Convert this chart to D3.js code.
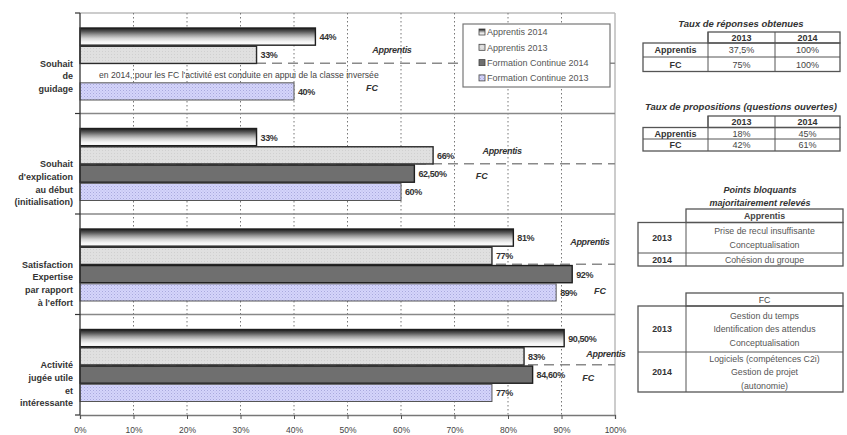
<!DOCTYPE html>
<html><head><meta charset="utf-8">
<script src="https://cdn.jsdelivr.net/npm/d3@7"></script>
<style>
body{margin:0;background:#fff;}
svg{display:block;font-family:"Liberation Sans",Arial,sans-serif;}
</style></head>
<body><svg id="c" width="847" height="435"></svg>
<script>
// ---- data ----
const categories = ["Souhait de guidage","Souhait d'explication au début (initialisation)","Satisfaction Expertise par rapport à l'effort","Activité jugée utile et intéressante"];
const categoryLines = [["Souhait","de","guidage"],["Souhait","d'explication","au début","(initialisation)"],["Satisfaction","Expertise","par rapport","à l'effort"],["Activité","jugée utile","et","intéressante"]];
const seriesNames = ["Apprentis 2014","Apprentis 2013","Formation Continue 2014","Formation Continue 2013"];
const apprentis2014 = [44, 33, 81, 90.5];
const apprentis2013 = [33, 66, 77, 83];
const fc2014 = [null, 62.5, 92, 84.6];
const fc2013 = [40, 60, 89, 77];
const xTicks = [0,10,20,30,40,50,60,70,80,90,100];
// group annotation positions in % (x) : Apprentis / FC labels
const apprLabelX = [58.3, 78.9, 95.3, 98.3];
const fcLabelX = [54.6, 75.1, 97.2, 95];
const note = "en 2014, pour les FC l'activité est conduite en appui de la classe inversée";

const table1Title = "Taux de réponses obtenues";
const table2Title = "Taux de propositions (questions ouvertes)";
const tableYears = ["2013","2014"];
const tableRows = ["Apprentis","FC"];
const reponses = [["37,5%","100%"],["75%","100%"]];
const propositions = [["18%","45%"],["42%","61%"]];
const blocTitle = ["Points bloquants","majoritairement relevés"];
const blocApprentis = [["Prise de recul insuffisante","Conceptualisation"],["Cohésion du groupe"]];
const blocFC = [["Gestion du temps","Identification des attendus","Conceptualisation"],["Logiciels (compétences C2i)","Gestion de projet","(autonomie)"]];

const seriesData = [apprentis2014, apprentis2013, fc2014, fc2013];

const svg = d3.select("#c");
const defs = svg.append("defs");
// gradient for Apprentis 2014
const g1 = defs.append("linearGradient").attr("id","gA14").attr("x1",0).attr("y1",0).attr("x2",0).attr("y2",1);
[["0%","#1a1a1a"],["20%","#555"],["40%","#9a9a9a"],["60%","#d4d4d4"],["80%","#f4f4f4"],["100%","#ffffff"]].forEach(s=>g1.append("stop").attr("offset",s[0]).attr("stop-color",s[1]));
// dotted pattern light gray
const p1 = defs.append("pattern").attr("id","pA13").attr("width",3).attr("height",3).attr("patternUnits","userSpaceOnUse");
p1.append("rect").attr("width",3).attr("height",3).attr("fill","#e0e0e0");
p1.append("rect").attr("width",1).attr("height",1).attr("fill","#d0d0d0");
const p2 = defs.append("pattern").attr("id","pF13").attr("width",3).attr("height",3).attr("patternUnits","userSpaceOnUse");
p2.append("rect").attr("width",3).attr("height",3).attr("fill","#d4d4fb");
p2.append("rect").attr("width",1).attr("height",1).attr("fill","#a9a9dc");
p2.append("rect").attr("x",1.5).attr("y",1.5).attr("width",1).attr("height",1).attr("fill","#b9b9e6");

const fills = ["url(#gA14)","url(#pA13)","#6f6f6f","url(#pF13)"];
const strokes = ["#1e1e1e","#2a2a2a","#1e1e1e","#555"];

const x = d3.scaleLinear().domain([0,100]).range([80,615]);
const y0 = d3.scaleBand().domain(categories).range([13,415]);
const y1 = d3.scaleBand().domain(seriesNames).range([15,87]).paddingInner(0.06);

// frame
svg.append("line").attr("x1",80).attr("x2",615).attr("y1",13).attr("y2",13).attr("stroke","#999").attr("stroke-width",1);
svg.append("line").attr("x1",615).attr("x2",615).attr("y1",13).attr("y2",415).attr("stroke","#bbb").attr("stroke-width",1.5);

// vertical dotted grid
svg.append("g").selectAll("line").data(xTicks.slice(1,-1)).join("line")
  .attr("x1",d=>x(d)).attr("x2",d=>x(d)).attr("y1",13).attr("y2",415)
  .attr("stroke","#777").attr("stroke-width",1).attr("stroke-dasharray","1.5,2.5");

// group separators
svg.append("g").selectAll("line").data(categories.slice(1)).join("line")
  .attr("x1",80).attr("x2",615).attr("y1",d=>y0(d)).attr("y2",d=>y0(d))
  .attr("stroke","#888").attr("stroke-width",1.3);

// dashed lines between Apprentis and FC
svg.append("g").selectAll("line").data(categories).join("line")
  .attr("x1",80).attr("x2",615).attr("y1",d=>y0(d)+y0.bandwidth()/2).attr("y2",d=>y0(d)+y0.bandwidth()/2)
  .attr("stroke","#8a8a8a").attr("stroke-width",1.6).attr("stroke-dasharray","10,6");

// bars
const fmt = v => Number.isInteger(v) ? v+"%" : v.toFixed(2).replace(".",",")+"%";
seriesNames.forEach((s,si)=>{
  const g = svg.append("g");
  const rows = categories.map((c,ci)=>({c, v:seriesData[si][ci]})).filter(d=>d.v!=null);
  g.selectAll("rect").data(rows).join("rect")
    .attr("x",x(0)).attr("y",d=>y0(d.c)+y1(s))
    .attr("width",d=>x(d.v)-x(0)).attr("height",y1.bandwidth())
    .attr("fill",fills[si]).attr("stroke",strokes[si]).attr("stroke-width",si==3?1:1.4);
  g.selectAll("text").data(rows).join("text")
    .attr("x",d=>x(d.v)+4).attr("y",d=>y0(d.c)+y1(s)+y1.bandwidth()/2+3.5)
    .attr("font-size",9).attr("font-weight","bold").attr("fill","#333").attr("letter-spacing",-0.4)
    .text(d=>fmt(d.v));
});

// left axis
svg.append("line").attr("x1",80).attr("x2",80).attr("y1",13).attr("y2",415).attr("stroke","#333").attr("stroke-width",1.3);
svg.append("g").selectAll("line").data(categories.concat(["end"])).join("line")
  .attr("x1",75).attr("x2",80)
  .attr("y1",(d,i)=>i<categories.length?y0(d):y0.range()[1]).attr("y2",(d,i)=>i<categories.length?y0(d):y0.range()[1])
  .attr("stroke","#333").attr("stroke-width",1.2);

// category labels
categories.forEach((c,ci)=>{
  const t = svg.append("text").attr("text-anchor","end").attr("font-size",9).attr("font-weight","bold").attr("fill","#333");
  categoryLines[ci].forEach((ln,li)=>{
    t.append("tspan").attr("x",73).attr("y",y0(c)+y0.bandwidth()/2+3.5+li*12.7).text(ln);
  });
});

// bottom axis
const xAxis = d3.axisBottom(x).tickValues(xTicks).tickFormat(d=>d+"%").tickSize(4).tickPadding(8);
const ax = svg.append("g").attr("transform","translate(0,415)").call(xAxis);
ax.select(".domain").attr("stroke","#777").attr("stroke-width",1.3);
ax.selectAll(".tick line").attr("stroke","#555");
ax.selectAll("text").attr("font-size",8.5).attr("fill","#444").attr("font-family","Liberation Sans, Arial, sans-serif");

// group annotations
const annG = svg.append("g").attr("font-size",9).attr("font-weight","bold").attr("font-style","italic").attr("fill","#333").attr("text-anchor","middle");
categories.forEach((c,ci)=>{
  const top = y0(c);
  const ay = [36, 36.5, 27, 38.5][ci];
  const fy = [74, 61.5, 76, 62.5][ci];
  annG.append("text").attr("x",x(apprLabelX[ci])).attr("y",top+ay+3.5).attr("letter-spacing",-0.3).text("Apprentis");
  annG.append("text").attr("x",x(fcLabelX[ci])).attr("y",top+fy+3.5).text("FC");
});
svg.append("text").attr("x",99).attr("y",78).attr("font-size",8.6).attr("fill","#444").text(note);

// legend
const lg = svg.append("g");
lg.append("rect").attr("x",463).attr("y",24).attr("width",147).attr("height",63).attr("fill","#fff").attr("stroke","#777").attr("stroke-width",1.2);
seriesNames.forEach((s,si)=>{
  const yy = 32 + si*15.3;
  lg.append("rect").attr("x",479).attr("y",yy-3).attr("width",6).attr("height",6).attr("fill",fills[si]).attr("stroke","#444").attr("stroke-width",0.8);
  lg.append("text").attr("x",487).attr("y",yy+3.3).attr("font-size",9).attr("fill","#555").text(s);
});

// ---- tables ----
const tg = svg.append("g").attr("font-size",9).attr("fill","#333");
function simpleTable(title, titleY, top, rowsY, data){
  tg.append("text").attr("x",741).attr("y",titleY).attr("text-anchor","middle").attr("font-size",9.5).attr("font-weight","bold").attr("font-style","italic").text(title);
  const cx = [643,708,775,840];
  const [yh, y1r, y2r, yb] = rowsY;
  const stroke = "#555";
  tg.append("rect").attr("x",cx[1]).attr("y",yh).attr("width",cx[3]-cx[1]).attr("height",y1r-yh).attr("fill","none").attr("stroke",stroke).attr("stroke-width",1.3);
  tg.append("rect").attr("x",cx[0]).attr("y",y1r).attr("width",cx[3]-cx[0]).attr("height",yb-y1r).attr("fill","none").attr("stroke",stroke).attr("stroke-width",1.3);
  tg.append("line").attr("x1",cx[0]).attr("x2",cx[3]).attr("y1",y2r).attr("y2",y2r).attr("stroke",stroke);
  tg.append("line").attr("x1",cx[1]).attr("x2",cx[1]).attr("y1",yh).attr("y2",yb).attr("stroke",stroke);
  tg.append("line").attr("x1",cx[2]).attr("x2",cx[2]).attr("y1",yh).attr("y2",yb).attr("stroke",stroke);
  tableYears.forEach((yr,i)=>tg.append("text").attr("x",(cx[i+1]+cx[i+2])/2).attr("y",(yh+y1r)/2+3.3).attr("text-anchor","middle").attr("font-weight","bold").text(yr));
  const ry = [y1r,y2r,yb];
  tableRows.forEach((r,ri)=>{
    const my = (ry[ri]+ry[ri+1])/2+3.3;
    tg.append("text").attr("x",(cx[0]+cx[1])/2).attr("y",my).attr("text-anchor","middle").attr("font-weight","bold").text(r);
    data[ri].forEach((v,vi)=>tg.append("text").attr("x",(cx[vi+1]+cx[vi+2])/2).attr("y",my).attr("text-anchor","middle").attr("fill","#444").text(v));
  });
}
simpleTable(table1Title, 27, 0, [32,43,57,71.5], reponses);
simpleTable(table2Title, 110, 0, [116,127.5,139,151], propositions);

function blocTable(header, headerBold, ys, data){
  const cx = [638,686,843];
  const stroke = "#555";
  tg.append("rect").attr("x",cx[1]).attr("y",ys[0]).attr("width",cx[2]-cx[1]).attr("height",ys[1]-ys[0]).attr("fill","none").attr("stroke",stroke).attr("stroke-width",1.3);
  tg.append("rect").attr("x",cx[0]).attr("y",ys[1]).attr("width",cx[2]-cx[0]).attr("height",ys[3]-ys[1]).attr("fill","none").attr("stroke",stroke).attr("stroke-width",1.3);
  tg.append("line").attr("x1",cx[0]).attr("x2",cx[2]).attr("y1",ys[2]).attr("y2",ys[2]).attr("stroke",stroke);
  tg.append("line").attr("x1",cx[1]).attr("x2",cx[1]).attr("y1",ys[1]).attr("y2",ys[3]).attr("stroke",stroke);
  tg.append("text").attr("x",(cx[1]+cx[2])/2).attr("y",(ys[0]+ys[1])/2+3.3).attr("text-anchor","middle").attr("font-size",8.8).attr("font-weight",headerBold?"bold":"normal").attr("fill","#444").text(header);
  tableYears.forEach((yr,i)=>{
    const a = ys[i+1], b = ys[i+2];
    tg.append("text").attr("x",(cx[0]+cx[1])/2).attr("y",(a+b)/2+3.3).attr("text-anchor","middle").attr("font-weight","bold").attr("font-size",8.8).text(yr);
    const lines = data[i];
    const lh = 13.3;
    const start = (a+b)/2 - (lines.length-1)*lh/2;
    lines.forEach((ln,li)=>tg.append("text").attr("x",(cx[1]+cx[2])/2).attr("y",start+li*lh+3.3).attr("text-anchor","middle").attr("font-size",8.8).attr("fill","#555").text(ln));
  });
}
blocTitle.forEach((t,i)=>tg.append("text").attr("x",760).attr("y",193+i*13).attr("text-anchor","middle").attr("font-size",9).attr("font-weight","bold").attr("font-style","italic").text(t));
blocTable("Apprentis", true, [209,222.5,253,266], blocApprentis);
blocTable("FC", false, [293,306,352,392], blocFC);
</script></body></html>
